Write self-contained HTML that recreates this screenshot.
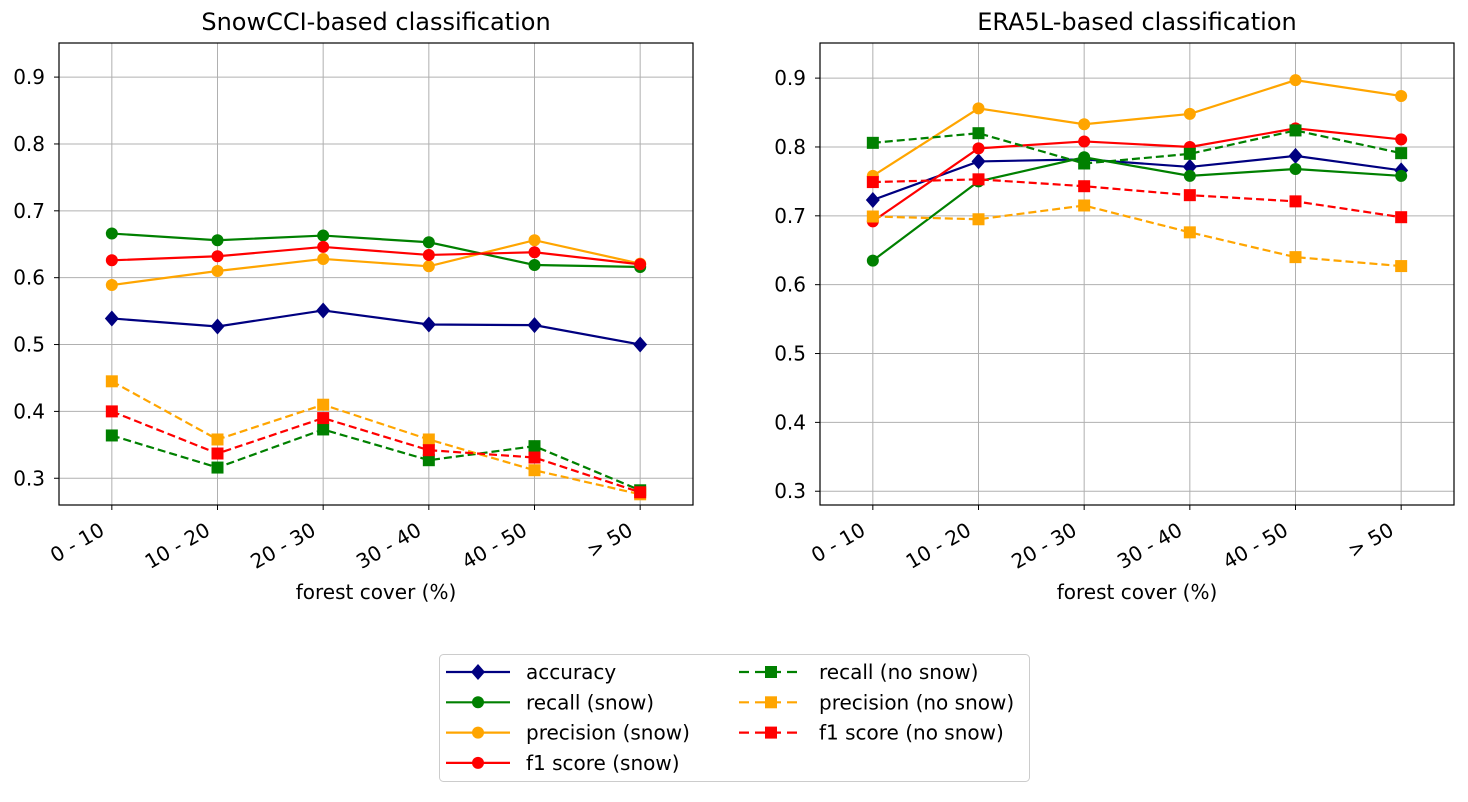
<!DOCTYPE html>
<html><head><meta charset="utf-8"><style>
body{margin:0;background:#fff;font-family:"Liberation Sans","DejaVu Sans",sans-serif}
svg text{font-family:"DejaVu Sans","Liberation Sans",sans-serif}
</style></head><body>
<svg id="chart" width="1468" height="797" xmlns="http://www.w3.org/2000/svg"></svg>
<script>
const categories=["0 - 10","10 - 20","20 - 30","30 - 40","40 - 50","> 50"];
const yTicks=[0.3,0.4,0.5,0.6,0.7,0.8,0.9];
const seriesNames=["accuracy","recall (snow)","precision (snow)","f1 score (snow)","recall (no snow)","precision (no snow)","f1 score (no snow)"];
const leftAccuracy=[0.539,0.527,0.551,0.530,0.529,0.500];
const leftRecallSnow=[0.666,0.656,0.663,0.653,0.619,0.616];
const leftPrecisionSnow=[0.589,0.610,0.628,0.617,0.656,0.621];
const leftF1Snow=[0.626,0.632,0.646,0.634,0.638,0.620];
const leftRecallNo=[0.364,0.316,0.373,0.327,0.348,0.282];
const leftPrecisionNo=[0.445,0.358,0.410,0.358,0.312,0.276];
const leftF1No=[0.400,0.337,0.390,0.342,0.331,0.279];
const rightAccuracy=[0.723,0.779,0.782,0.771,0.787,0.766];
const rightRecallSnow=[0.635,0.750,0.785,0.758,0.768,0.758];
const rightPrecisionSnow=[0.758,0.856,0.833,0.848,0.897,0.874];
const rightF1Snow=[0.692,0.798,0.808,0.800,0.827,0.811];
const rightRecallNo=[0.806,0.820,0.776,0.790,0.824,0.791];
const rightPrecisionNo=[0.699,0.695,0.715,0.676,0.640,0.627];
const rightF1No=[0.749,0.753,0.743,0.730,0.721,0.698];

const NS="http://www.w3.org/2000/svg";
const svg=document.getElementById('chart');
function mk(tag,attrs,parent){const e=document.createElementNS(NS,tag);for(const k in attrs)e.setAttribute(k,attrs[k]);(parent||svg).appendChild(e);return e;}
const styles=[
 {c:"#000080",m:"d",dash:false},{c:"#008000",m:"o",dash:false},{c:"#ffa500",m:"o",dash:false},{c:"#ff0000",m:"o",dash:false},
 {c:"#008000",m:"s",dash:true},{c:"#ffa500",m:"s",dash:true},{c:"#ff0000",m:"s",dash:true}];
function marker(g,m,x,y,c){
 if(m==="o")return mk('circle',{cx:x,cy:y,r:6,fill:c},g);
 if(m==="s")return mk('rect',{x:x-6,y:y-6,width:12,height:12,fill:c},g);
 return mk('polygon',{points:`${x},${y-8} ${x+7},${y} ${x},${y+8} ${x-7},${y}`,fill:c},g);
}
function panel(px,title,yMin,yMax,data,name){
 const L=px,R=px+634,T=43,B=505;
 const g=mk('g',{});
 
 
 const xs=i=>L+(i+0.5)/6*(R-L);
 const ys=v=>B-(v-yMin)/(yMax-yMin)*(B-T);
 yTicks.forEach(t=>{const y=ys(t);
  const l=mk('line',{x1:L,x2:R,y1:y,y2:y,stroke:"#b0b0b0","stroke-width":1},g);
  
  mk('line',{x1:L-5,x2:L,y1:y,y2:y,stroke:"#000"},g);
  const tx=mk('text',{x:L-14,y:y+7,"text-anchor":"end","font-size":20},g);tx.textContent=t.toFixed(1);
  });
 categories.forEach((c,i)=>{const x=xs(i);
  mk('line',{x1:x,x2:x,y1:T,y2:B,stroke:"#b0b0b0","stroke-width":1},g);
  mk('line',{x1:x,x2:x,y1:B,y2:B+5,stroke:"#000"},g);
  const ax=x-6,ay=B+29;
  const tx=mk('text',{x:ax,y:ay,"text-anchor":"end","font-size":20,transform:`rotate(-30 ${ax} ${ay})`},g);tx.textContent=c;
  });
 data.forEach((arr,si)=>{const s=styles[si];
  const sg=mk('g',{},g);
  
  
  mk('polyline',{points:arr.map((v,i)=>xs(i)+","+ys(v)).join(" "),fill:"none",stroke:s.c,"stroke-width":2.2,"stroke-dasharray":s.dash?"8,4":"none"},sg);
  arr.forEach((v,i)=>{const p=marker(sg,s.m,xs(i),ys(v),s.c);});});
 mk('rect',{x:L,y:T,width:R-L,height:B-T,fill:"none",stroke:"#000","stroke-width":1.2},g);
 const tt=mk('text',{x:(L+R)/2,y:30,"text-anchor":"middle","font-size":24},g);tt.textContent=title;
 
 const xt=mk('text',{x:(L+R)/2,y:599,"text-anchor":"middle","font-size":20},g);xt.textContent="forest cover (%)";
 
}
panel(59,"SnowCCI-based classification",0.26,0.951,[leftAccuracy,leftRecallSnow,leftPrecisionSnow,leftF1Snow,leftRecallNo,leftPrecisionNo,leftF1No],'left-panel');
panel(820,"ERA5L-based classification",0.28,0.951,[rightAccuracy,rightRecallSnow,rightPrecisionSnow,rightF1Snow,rightRecallNo,rightPrecisionNo,rightF1No],'right-panel');
const lg=mk('g',{});


mk('rect',{x:439.5,y:654.5,width:590,height:127,rx:4,fill:"#fff",stroke:"#ccc"},lg);
seriesNames.forEach((n,i)=>{const col=i<4?0:1,row=i<4?i:i-4;const s=styles[i];
 const x0=col?739:446,y=672+row*30.3;
 const e=mk('g',{},lg);
 
 
 mk('line',{x1:x0,x2:x0+64,y1:y,y2:y,stroke:s.c,"stroke-width":2.2,"stroke-dasharray":s.dash?"10,6":"none"},e);
 marker(e,s.m,x0+32,y,s.c);
 const t=mk('text',{x:x0+80,y:y+7,"font-size":20},e);t.textContent=n;});
</script>
</body></html>
